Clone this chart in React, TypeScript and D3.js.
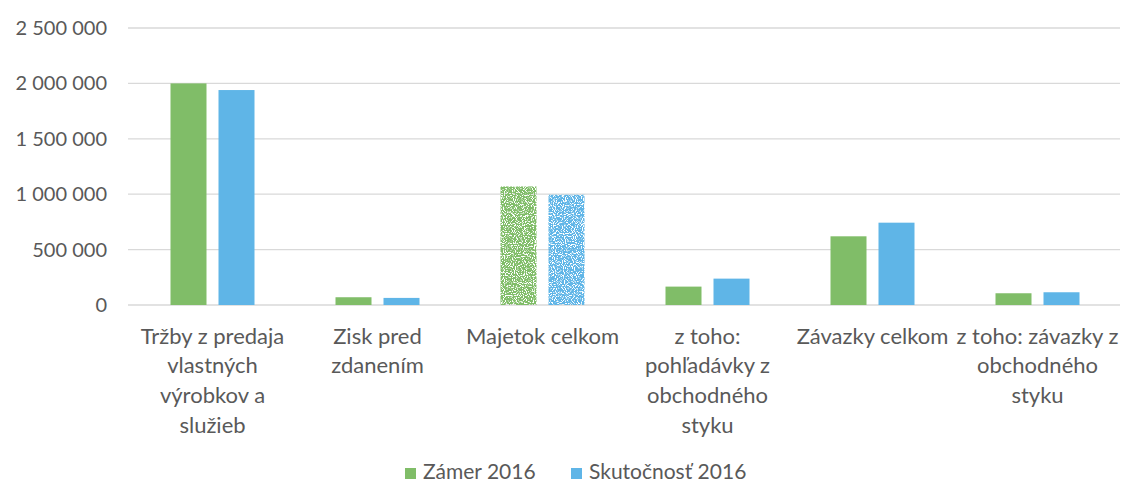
import React from "react";
import * as d3 from "d3";

// chart data
const categories = [
  ["Tržby z predaja", "vlastných", "výrobkov a", "služieb"],
  ["Zisk pred", "zdanením"],
  ["Majetok celkom"],
  ["z toho:", "pohľadávky z", "obchodného", "styku"],
  ["Závazky celkom"],
  ["z toho: závazky z", "obchodného", "styku"],
];
const seriesNames = ["Zámer 2016", "Skutočnosť 2016"];
const zamer2016 = [2000000, 70000, 1070000, 166000, 620000, 106000];
const skutocnost2016 = [1940000, 64000, 995000, 238000, 743000, 115000];
const yTicks = [0, 500000, 1000000, 1500000, 2000000, 2500000];

const colors = ["#80bd68", "#5fb5e7"];
const W = 1123;
const H = 486;
const margin = { top: 28, right: 3, bottom: 181, left: 130 };
const font = "Lato, 'Open Sans', sans-serif";

const fmt = (v: number) => d3.format(",")(v).replace(/,/g, " ");

export default function App() {
  const x0 = d3
    .scaleBand<number>()
    .domain(d3.range(categories.length))
    .range([margin.left, W - margin.right]);
  const x1 = d3
    .scaleBand<number>()
    .domain([0, 1])
    .range([0, 84])
    .paddingInner(0.25);
  const y = d3
    .scaleLinear()
    .domain([0, 2500000])
    .range([H - margin.bottom, margin.top]);

  const values = [zamer2016, skutocnost2016];
  const groupOffset = (x0.bandwidth() - 84) / 2;

  return (
    <svg
      width={W}
      height={H}
      style={{ position: "absolute", left: 0, top: 0, background: "#fff" }}
      fontFamily={font}
    >
      <defs>
        {/* speckled scan look on the Majetok bars */}
        <filter id="speckle" x="0" y="0" width="100%" height="100%">
          <feTurbulence type="fractalNoise" baseFrequency="0.9" numOctaves="1" seed="3" result="n" />
          <feColorMatrix
            in="n"
            type="matrix"
            values="0 0 0 0 0  0 0 0 0 0  0 0 0 0 0  0 0 0 -9 5.6"
            result="m"
          />
          <feComposite in="SourceGraphic" in2="m" operator="in" />
        </filter>
      </defs>

      {/* gridlines */}
      {yTicks.map((t) => (
        <line
          key={t}
          x1={margin.left - 2}
          x2={W - 3}
          y1={y(t)}
          y2={y(t)}
          stroke="#d9d9d9"
          strokeWidth={1.3}
        />
      ))}

      {/* y labels */}
      {yTicks.map((t) => (
        <text
          key={"l" + t}
          x={107}
          y={y(t)}
          dy="0.35em"
          textAnchor="end"
          fontSize={20}
          fill="#595959"
        >
          {fmt(t)}
        </text>
      ))}

      {/* bars */}
      {values.map((vals, s) =>
        vals.map((v, i) => (
          <rect
            key={s + "-" + i}
            x={x0(i)! + groupOffset + x1(s)!}
            y={y(v)}
            width={x1.bandwidth()}
            height={y(0) - y(v)}
            fill={colors[s]}
            filter={i === 2 ? "url(#speckle)" : undefined}
          />
        ))
      )}

      {/* category labels */}
      {categories.map((lines, i) => (
        <text
          key={"c" + i}
          x={x0(i)! + x0.bandwidth() / 2}
          y={336}
          textAnchor="middle"
          fontSize={22}
          fill="#595959"
        >
          {lines.map((ln, j) => (
            <tspan key={j} x={x0(i)! + x0.bandwidth() / 2} dy={j === 0 ? "0.35em" : 29.7}>
              {ln}
            </tspan>
          ))}
        </text>
      ))}

      {/* legend */}
      {seriesNames.map((name, s) => {
        const lx = s === 0 ? 405 : 571;
        return (
          <g key={name}>
            <rect x={lx} y={468} width={11} height={11} fill={colors[s]} />
            <text x={lx + 18} y={472} dy="0.35em" fontSize={21} fill="#595959">
              {name}
            </text>
          </g>
        );
      })}
    </svg>
  );
}
